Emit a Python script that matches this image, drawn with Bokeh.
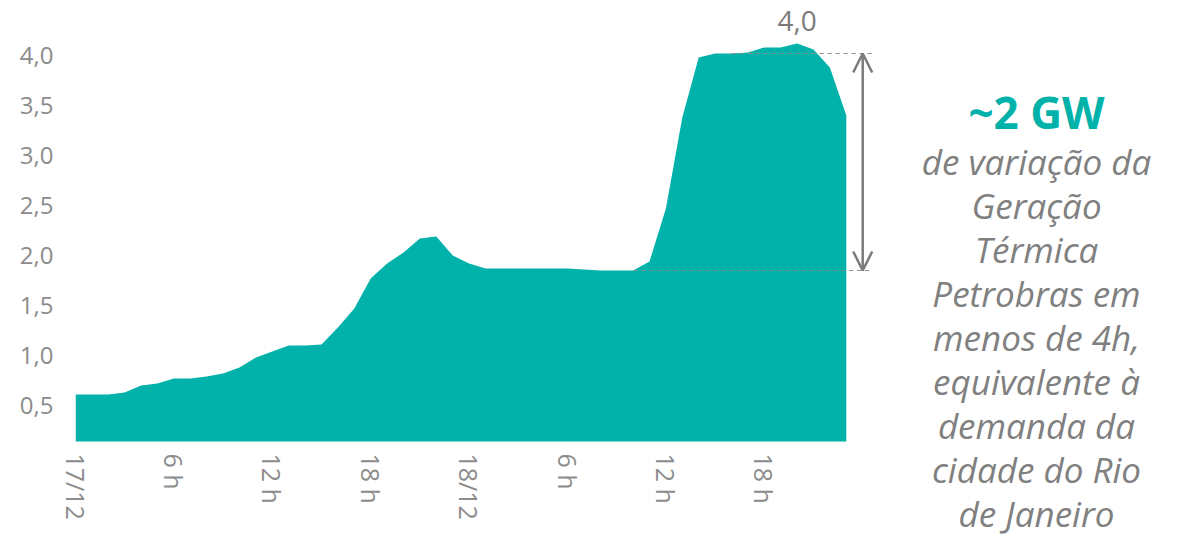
from bokeh.plotting import figure
from bokeh.layouts import row
from bokeh.models import FixedTicker, Arrow, OpenHead, ColumnDataSource
from bokeh.core.properties import value
from bokeh.embed import file_html
from bokeh.resources import INLINE

# ---- data ----
hours = list(range(48))
geracao_gw = [0.61, 0.61, 0.61, 0.63, 0.70, 0.72, 0.77, 0.77, 0.79, 0.82,
              0.88, 0.98, 1.04, 1.10, 1.10, 1.11, 1.28, 1.47, 1.77, 1.92,
              2.03, 2.17, 2.19, 2.00, 1.92, 1.87, 1.87, 1.87, 1.87, 1.87,
              1.87, 1.86, 1.85, 1.85, 1.85, 1.94, 2.47, 3.38, 3.98, 4.02,
              4.02, 4.03, 4.08, 4.08, 4.12, 4.06, 3.88, 3.40]
x_tick_hours = [0, 6, 12, 18, 24, 30, 36, 42]
x_tick_labels = ["17/12", "6 h", "12 h", "18 h", "18/12", "6 h", "12 h", "18 h"]
y_ticks = [0.5, 1.0, 1.5, 2.0, 2.5, 3.0, 3.5, 4.0]
y_tick_labels = ["0,5", "1,0", "1,5", "2,0", "2,5", "3,0", "3,5", "4,0"]
peak_label = "4,0"
var_low, var_high = 1.85, 4.02
var_low_from, var_high_from = 34, 40
headline = "~2 GW"
note_lines = ["de variação da", "Geração", "Térmica", "Petrobras em",
              "menos de 4h,", "equivalente à", "demanda da",
              "cidade do Rio", "de Janeiro"]

TEAL = "#00B2A9"
GRAY = "#8C8C8C"
DARK = "#7B7B7B"
FONT = "Open Sans"

p = figure(frame_width=805, frame_height=441,
           min_border_left=75, min_border_right=0, min_border_top=0, min_border_bottom=95,
           x_range=(0, 49.085), y_range=(0.14, 4.55),
           output_backend="svg", toolbar_location=None)
p.outline_line_color = None
p.xgrid.visible = False
p.ygrid.visible = False
p.background_fill_color = "white"
p.border_fill_color = "white"

src = ColumnDataSource(dict(x=hours, y=geracao_gw, base=[0.0] * len(hours)))
p.varea(x="x", y1="base", y2="y", source=src, fill_color=TEAL, fill_alpha=1.0)

# axes
p.xaxis.ticker = FixedTicker(ticks=x_tick_hours)
p.xaxis.major_label_overrides = {h: l for h, l in zip(x_tick_hours, x_tick_labels)}
p.xaxis.major_label_orientation = "vertical"
p.yaxis.ticker = FixedTicker(ticks=y_ticks)
p.yaxis.major_label_overrides = {t: l for t, l in zip(y_ticks, y_tick_labels)}
for ax, so, fs in ((p.xaxis, 12, "25px"), (p.yaxis, 22, "24px")):
    ax.axis_line_color = None
    ax.major_tick_line_color = None
    ax.minor_tick_line_color = None
    ax.major_tick_out = 0
    ax.major_tick_in = 0
    ax.major_label_standoff = so
    ax.major_label_text_font = FONT
    ax.major_label_text_font_size = fs
    ax.major_label_text_color = GRAY

# dashed reference lines
end_x = 48.58
p.segment(x0=[var_high_from, var_low_from], x1=[end_x, end_x], y0=[var_high, var_low],
          y1=[var_high, var_low], line_color="#8C8C8C", line_width=1.2, line_dash="4 4")

# double arrow
p.add_layout(Arrow(start=OpenHead(size=19, line_width=2.5, line_color=DARK),
                   end=OpenHead(size=19, line_width=2.5, line_color=DARK),
                   x_start=48.0, y_start=var_low, x_end=48.0, y_end=var_high,
                   line_color=DARK, line_width=2.5))

# peak label (text glyph just above the peak)
imax = max(range(len(geracao_gw)), key=lambda i: geracao_gw[i])
p.text(x=[hours[imax]], y=[geracao_gw[imax] + 0.23], text=[peak_label],
       text_align="center", text_baseline="alphabetic",
       text_font=value(FONT), text_font_size="28px", text_color=DARK)

# right-hand note panel (pixel-like coordinates, y up)
q = figure(frame_width=300, frame_height=536, min_border=0,
           x_range=(0, 300), y_range=(0, 536), x_axis_type=None, y_axis_type=None,
           output_backend="svg", toolbar_location=None)
q.outline_line_color = None
q.xgrid.visible = False
q.ygrid.visible = False
note_x = 156
q.text(x=[note_x], y=[425], text=[headline], text_align="center",
       text_baseline="alphabetic", text_font=value(FONT), text_font_size="44px",
       text_font_style="bold", text_color=TEAL)
q.text(x=[note_x] * len(note_lines), y=[375 - 44.0 * i for i in range(len(note_lines))],
       text=note_lines, text_align="center", text_baseline="alphabetic",
       text_font=value(FONT), text_font_size="35px", text_font_style="italic",
       text_color="#808080")

layout = row(p, q, spacing=0)
open("out.html", "w").write(file_html(layout, INLINE))
